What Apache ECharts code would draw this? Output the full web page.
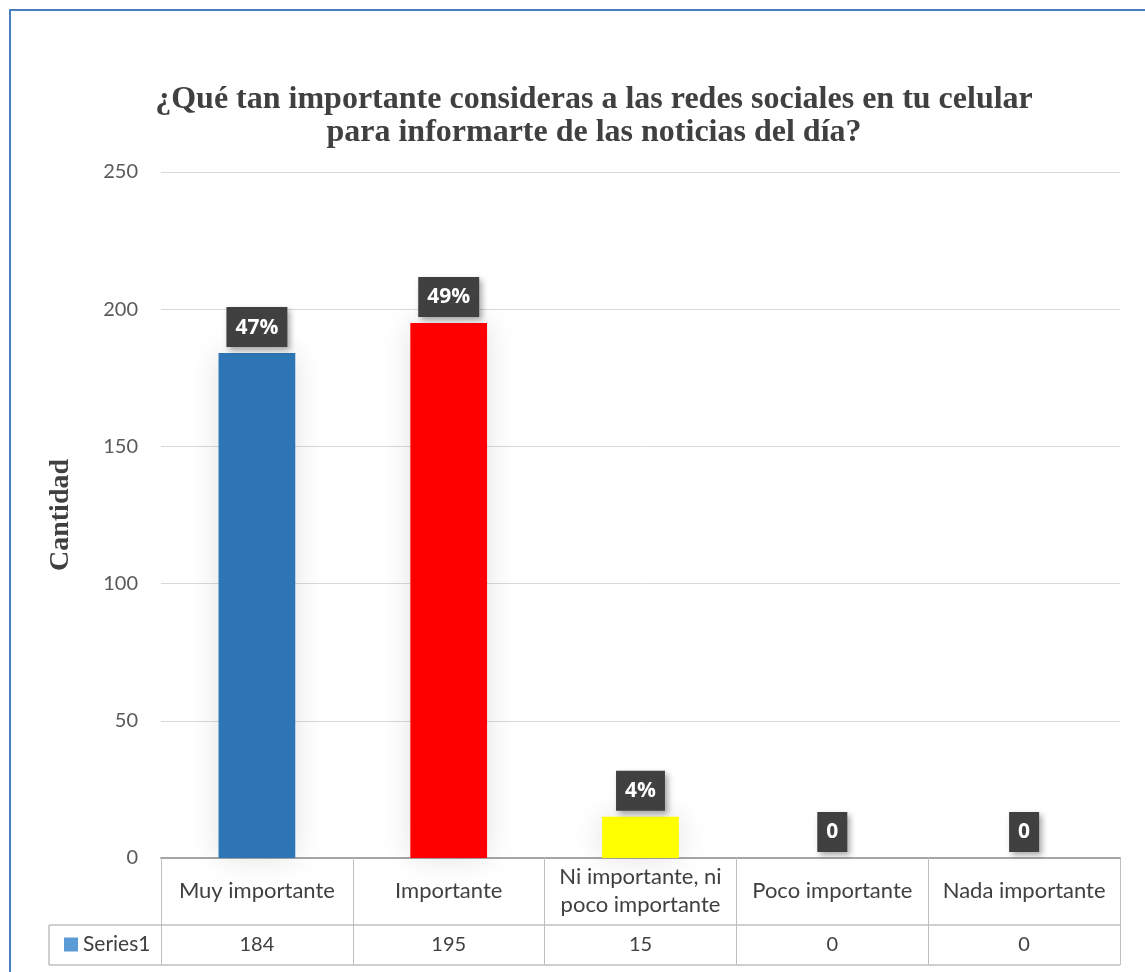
<!DOCTYPE html>
<html>
<head>
<meta charset="utf-8">
<title>Redes sociales</title>
<script src="https://cdn.jsdelivr.net/npm/echarts@6/dist/echarts.min.js"></script>
<style>
  html, body { margin: 0; padding: 0; background: #fff; }
  #chart { width: 1145px; height: 972px; }
</style>
</head>
<body>
<div id="chart"></div>
<script>
  // datos de la encuesta
  const categorias = ['Muy importante', 'Importante', 'Ni importante, ni\npoco importante', 'Poco importante', 'Nada importante']
  const valores = [184, 195, 15, 0, 0]
  const colores = ['#2E75B6', '#FF0000', '#FFFF00', '#7F7F7F', '#7F7F7F']
  const yTicks = [0, 50, 100, 150, 200, 250]

  const total = valores.reduce((a, b) => a + b, 0)

  // caja del grafico (px)
  const gLeft = 161, gRight = 25, gTop = 172, gBottom = 114
  const W = 1145, H = 972
  const axisY = H - gBottom
  const row1 = axisY + 67   // fin fila categorias
  const row2 = axisY + 107  // fin fila valores
  const tableLeft = 49
  const lineCol = '#BFBFBF'

  let myChart = echarts.init(document.getElementById('chart'))
  myChart.setOption({
    animation: false,
    backgroundColor: '#fff',
    title: {
      text: '¿Qué tan importante consideras a las redes sociales en tu celular\npara informarte de las noticias del día?',
      left: 589,
      top: 78,
      textAlign: 'center',
      textStyle: {
        fontFamily: 'Liberation Serif',
        fontWeight: 'bold',
        fontSize: 32,
        lineHeight: 33,
        color: '#404040'
      }
    },
    legend: {
      data: ['Series1'],
      left: 64,
      top: 934,
      padding: 0,
      icon: 'rect',
      itemWidth: 14,
      itemHeight: 14,
      textStyle: { fontFamily: 'Lato', fontSize: 21, color: '#404040' }
    },
    grid: { left: gLeft, right: gRight, top: gTop, bottom: gBottom },
    xAxis: [
      {
        type: 'category',
        data: categorias,
        axisLine: { lineStyle: { color: '#A6A6A6', width: 2 } },
        axisTick: { show: true, interval: 0, length: row2 - axisY, lineStyle: { color: lineCol } },
        axisLabel: {
          interval: 0,
          margin: 33,
          verticalAlign: 'middle',
          fontFamily: 'Lato',
          fontSize: 22,
          lineHeight: 28,
          color: '#404040'
        }
      },
      {
        type: 'category',
        position: 'bottom',
        data: valores.map(String),
        axisLine: { show: false },
        axisTick: { show: false },
        axisLabel: {
          interval: 0,
          margin: 87,
          verticalAlign: 'middle',
          fontFamily: 'Lato',
          fontSize: 20,
          color: '#404040'
        }
      }
    ],
    yAxis: {
      type: 'value',
      min: yTicks[0],
      max: yTicks[yTicks.length - 1],
      interval: 50,
      name: 'Cantidad',
      nameLocation: 'middle',
      nameGap: 86,
      nameRotate: 90,
      nameTextStyle: {
        fontFamily: 'Liberation Serif',
        fontWeight: 'bold',
        fontSize: 28,
        color: '#404040'
      },
      axisLine: { show: false },
      axisTick: { show: false },
      axisLabel: { margin: 23, fontFamily: 'Lato', fontSize: 20, color: '#595959' },
      splitLine: { lineStyle: { color: '#D9D9D9', width: 1 } }
    },
    series: [
      {
        name: 'Series1',
        type: 'bar',
        barWidth: '40%',
        itemStyle: {
          color: '#5B9BD5',
          shadowBlur: 30,
          shadowColor: 'rgba(0,0,0,0.12)'
        },
        data: valores.map((v, i) => ({ value: v, itemStyle: { color: colores[i] } })),
        label: {
          show: true,
          position: 'top',
          distance: 6,
          formatter: p => p.value ? Math.round(p.value / total * 100) + '%' : '0',
          fontFamily: 'Open Sans',
          fontWeight: 'bold',
          fontSize: 21,
          color: '#fff',
          backgroundColor: '#404040',
          padding: [10, 9, 9, 9],
          shadowBlur: 6,
          shadowOffsetX: 3,
          shadowOffsetY: 3,
          shadowColor: 'rgba(0,0,0,0.35)'
        }
      }
    ],
    graphic: [
      // marco del grafico
      { type: 'rect', shape: { x: 10, y: 10, width: W + 20, height: H + 20 }, style: { fill: 'none', stroke: '#4A7EBB', lineWidth: 2 } },
      // lineas de la tabla de datos
      { type: 'line', shape: { x1: tableLeft, y1: row1, x2: W - gRight, y2: row1 }, style: { stroke: lineCol, lineWidth: 1.5 } },
      { type: 'line', shape: { x1: tableLeft, y1: row2, x2: W - gRight, y2: row2 }, style: { stroke: lineCol, lineWidth: 1.5 } },
      { type: 'line', shape: { x1: tableLeft, y1: row1, x2: tableLeft, y2: row2 }, style: { stroke: lineCol, lineWidth: 1.5 } }
    ]
  })
</script>
</body>
</html>
